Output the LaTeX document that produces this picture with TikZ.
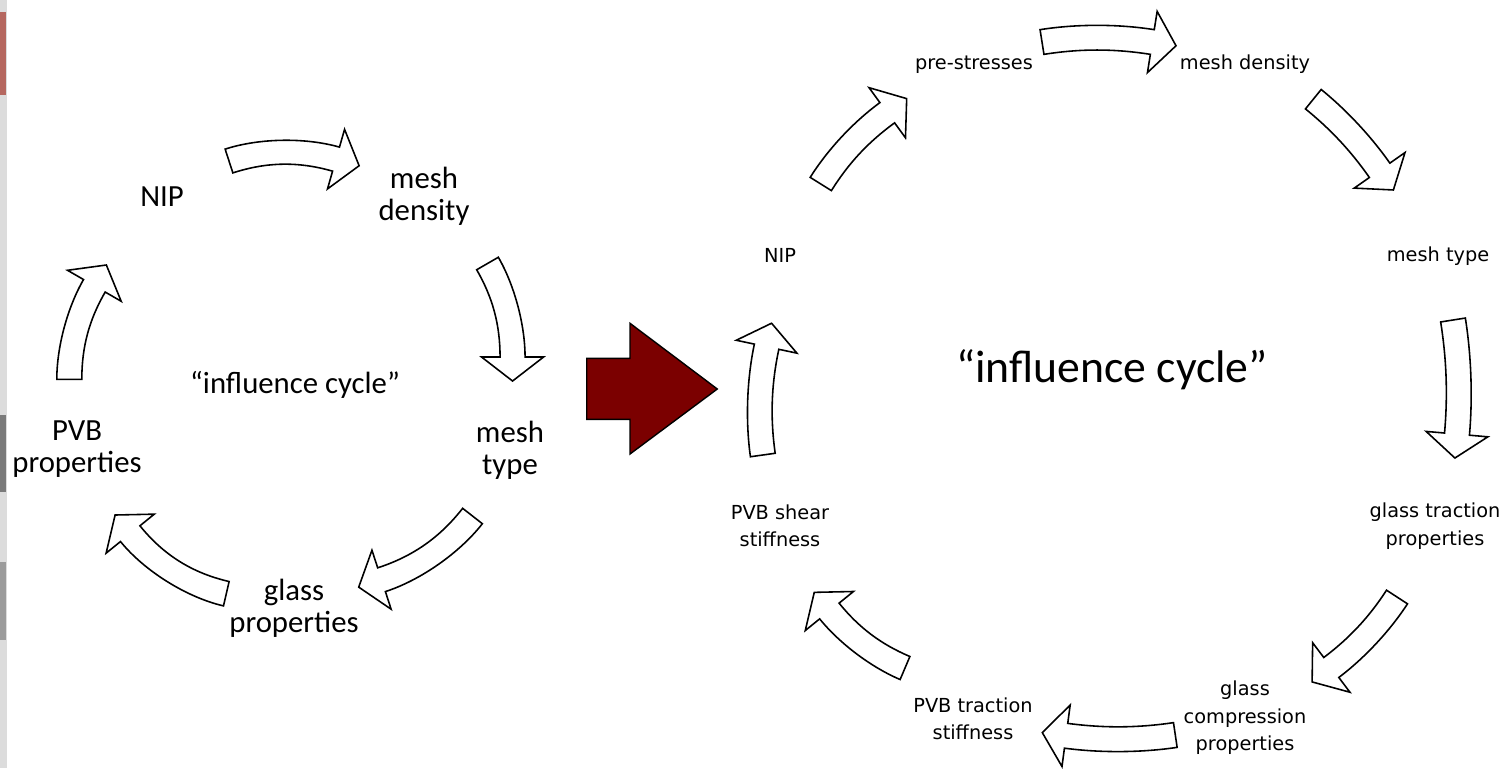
\documentclass[tikz,border=0pt]{standalone}
\usepackage{fontspec}
\setmainfont{Carlito}
\newfontfamily\labelfont{DejaVu Sans}
\definecolor{CycleRed}{HTML}{7B0000}
\definecolor{EdgeGray}{HTML}{DCDCDC}
\definecolor{TabRed}{HTML}{B5675F}
\definecolor{TabDark}{HTML}{7A7A7A}
\definecolor{TabGray}{HTML}{9B9B9B}

% curved block arrow: tail x, tail y, direction, length, bend
\newcommand\cyclearrow[5]{%
  \begin{scope}[shift={(#1,#2)},rotate=#3]
    \pgfmathsetmacro\arrca{cos(#5)}
    \pgfmathsetmacro\arrsa{sin(#5)}
    \pgfmathsetmacro\arrls{#4-24*\arrca}
    \pgfmathsetmacro\arrk{\arrls/3}
    \draw[blockarrow] ({12.5*\arrsa},{-12.5*\arrca}) -- ({-12.5*\arrsa},{12.5*\arrca})
      .. controls ({-12.5*\arrsa+\arrk*\arrca},{12.5*\arrca+\arrk*\arrsa})
         and ({\arrls+12.5*\arrsa-\arrk*\arrca},{12.5*\arrca+\arrk*\arrsa})
      .. ({\arrls+12.5*\arrsa},{12.5*\arrca})
      -- ({\arrls+31*\arrsa},{31*\arrca}) -- ({\arrls+24*\arrca},{-24*\arrsa})
      -- ({\arrls-31*\arrsa},{-31*\arrca}) -- ({\arrls-12.5*\arrsa},{-12.5*\arrca})
      .. controls ({\arrls-12.5*\arrsa-\arrk*\arrca},{-12.5*\arrca+\arrk*\arrsa})
         and ({12.5*\arrsa+\arrk*\arrca},{-12.5*\arrca+\arrk*\arrsa})
      .. ({12.5*\arrsa},{-12.5*\arrca}) -- cycle;
  \end{scope}}

\begin{document}
\begin{tikzpicture}[x=0.02cm,y=0.02cm,
    blockarrow/.style={draw=black,fill=white,line width=0.9pt,line join=miter},
    bigstep/.style={font=\fontsize{17.5}{18.2}\selectfont,align=center,inner sep=0pt},
    smallstep/.style={font=\labelfont\fontsize{11}{15.6}\selectfont,align=center,inner sep=0pt}]
  \useasboundingbox[fill=white] (0,0) rectangle (1507,-768);

  % slide edge
  \fill[EdgeGray] (0,0) rectangle (7,-768);
  \fill[TabRed] (0,-12) rectangle (6,-95);
  \fill[TabDark] (0,-415) rectangle (6,-492);
  \fill[TabGray] (0,-562) rectangle (6,-640);

  % left cycle
  \node[bigstep] (nipA) at (162,-197) {NIP};
  \node[bigstep] (densA) at (424,-196) {mesh\\density};
  \node[bigstep] (typeA) at (510,-450) {mesh\\type};
  \node[bigstep] (glassA) at (294,-608) {glass\\properties};
  \node[bigstep] (pvbA) at (77,-449) {PVB\\properties};
  \node[bigstep] (titleA) at (295,-385) {“influence cycle”};

  \cyclearrow{229}{-161}{1}{130}{17}
  \cyclearrow{487.5}{-263.5}{-75}{120}{15}
  \cyclearrow{472.5}{-516}{-145}{134}{17}
  \cyclearrow{226.3}{-593.7}{148}{136}{19}
  \cyclearrow{69.3}{-379.3}{75}{120}{15}

  % transition
  \draw[fill=CycleRed,line width=0.8pt] (586.7,-358.3) -- (630,-358.3) -- (630,-323.3)
    -- (717.3,-389) -- (630,-454) -- (630,-419.3) -- (586.7,-419.3) -- cycle;

  % right cycle
  \node[smallstep] (nipB) at (780,-255) {NIP};
  \node[smallstep] (stressB) at (974,-65) {pre-stresses};
  \node[smallstep] (densB) at (1245,-64) {mesh density};
  \node[smallstep] (typeB) at (1438,-256) {mesh type};
  \node[smallstep] (tractB) at (1435,-526) {glass traction\\properties};
  \node[smallstep] (comprB) at (1245,-718) {glass\\compression\\properties};
  \node[smallstep] (pvbtB) at (973,-719) {PVB traction\\stiffness};
  \node[smallstep] (pvbsB) at (780,-526) {PVB shear\\stiffness};
  \node[font=\fontsize{26}{28}\selectfont,inner sep=0pt] (titleB) at (1112,-370) {“influence cycle”};

  \cyclearrow{820.8}{-184}{47}{121}{11}
  \cyclearrow{1042}{-42}{0}{134}{9}
  \cyclearrow{1313.3}{-99.2}{-47}{121}{8}
  \cyclearrow{1453}{-320}{-88}{138}{7}
  \cyclearrow{1397}{-597}{-133}{120}{10}
  \cyclearrow{1175.3}{-735}{180.4}{133}{8}
  \cyclearrow{905}{-668}{143}{118}{14}
  \cyclearrow{762.8}{-455}{88}{132}{10}
\end{tikzpicture}
\end{document}
